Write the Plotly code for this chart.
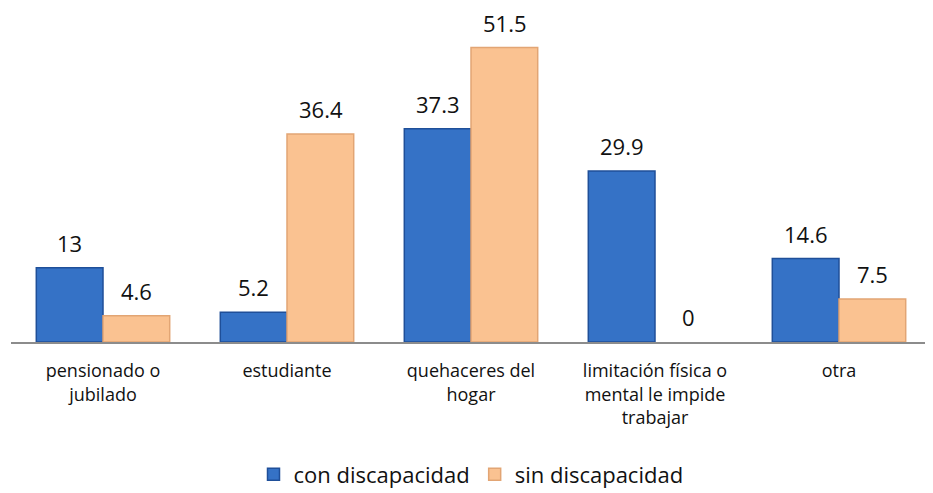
import plotly.graph_objects as go

categorias = ["pensionado o<br>jubilado", "estudiante", "quehaceres del<br>hogar",
              "limitación física o<br>mental le impide<br>trabajar", "otra"]
con_discapacidad = [13, 5.2, 37.3, 29.9, 14.6]
sin_discapacidad = [4.6, 36.4, 51.5, 0, 7.5]

font_fam = "'Open Sans', sans-serif"

fig = go.Figure()
series = [
    ("con discapacidad", con_discapacidad, "#3572C6", "#1F4F99", -33.5),
    ("sin discapacidad", sin_discapacidad, "#FAC291", "#E2A574", 33.5),
]
for name, vals, col, edge, shift in series:
    fig.add_trace(go.Bar(
        x=categorias, y=vals, name=name,
        marker=dict(color=col, line=dict(color=edge, width=[1.5 if v > 0 else 0 for v in vals])),
    ))
    for c, v in zip(categorias, vals):
        fig.add_annotation(x=c, y=v, text=f"{v:g}", showarrow=False,
                           xshift=shift, yshift=25, yanchor="middle",
                           font=dict(size=22, color="#111111", family=font_fam))

fig.update_layout(
    width=925, height=485,
    margin=dict(l=3, r=2, t=7, b=151, autoexpand=False),
    paper_bgcolor="white", plot_bgcolor="white",
    barmode="group", bargap=0.275, bargroupgap=0,
    font=dict(family=font_fam, color="#111111"),
    showlegend=True,
    legend=dict(orientation="h", x=0.5, xanchor="center", y=-0.405, yanchor="middle",
                font=dict(size=22, family=font_fam), traceorder="normal",
                tracegroupgap=0),
)
fig.update_xaxes(showline=True, linecolor="#8C8C8C", linewidth=1.5, ticks="",
                 tickfont=dict(size=18, family=font_fam), showgrid=False, automargin=False,
                 ticklabelstandoff=12)
fig.update_yaxes(visible=False, range=[0, 57.2], showgrid=False, zeroline=False, automargin=False)

fig.write_html("out.html")
